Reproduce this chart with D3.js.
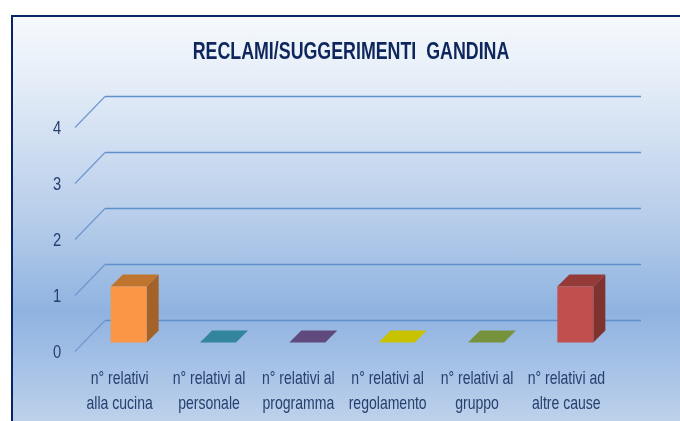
<!DOCTYPE html>
<html>
<head>
<meta charset="utf-8">
<script src="https://cdn.jsdelivr.net/npm/d3@7"></script>
<style>
  html, body { margin: 0; padding: 0; background: #fff; }
  svg { display: block; }
  text { font-family: "Liberation Sans", sans-serif; }
</style>
</head>
<body>
<div id="chart"></div>
<script>
const TITLE = 'RECLAMI/SUGGERIMENTI\u00a0 GANDINA';
const CATEGORIES = [
  ['n° relativi', 'alla cucina'],
  ['n° relativi al', 'personale'],
  ['n° relativi al', 'programma'],
  ['n° relativi al', 'regolamento'],
  ['n° relativi al', 'gruppo'],
  ['n° relativi ad', 'altre cause'],
];
const VALUES = [1, 0, 0, 0, 0, 1];
const Y_TICKS = [0, 1, 2, 3, 4];

// front, top, side
const BAR_COLORS = [
  ['#fa9644', '#c0752f', '#a3622a'],
  ['#31859c', '#31859c', '#31859c'],
  ['#604a7b', '#604a7b', '#604a7b'],
  ['#c9c200', '#c9c200', '#c9c200'],
  ['#76923c', '#76923c', '#76923c'],
  ['#c0504d', '#943a38', '#7f302e'],
];

const width = 680;
const height = 421;

// fake 3d: the floor goes back 30px right / 31px up, bars sit inside that
const depthX = 30;
const depthY = 31;
const barOffset = 9;
const barDepth = 12;
const barWidth = 36;

const svg = d3.select('#chart').append('svg')
  .attr('width', width)
  .attr('height', height);

const defs = svg.append('defs');

const bg = defs.append('linearGradient')
  .attr('id', 'bg')
  .attr('x1', 0).attr('y1', 0)
  .attr('x2', 0).attr('y2', 1);
[
  [0, '#f6f9fd'],
  [0.15, '#e6eef8'],
  [0.5, '#b7cdea'],
  [0.73, '#8fb3e0'],
  [0.85, '#a3c0e6'],
  [1, '#bdd1ea'],
].forEach(([o, c]) => bg.append('stop').attr('offset', o).attr('stop-color', c));

// the reference is a soft, upscaled picture
defs.append('filter')
  .attr('id', 'soft')
  .append('feGaussianBlur')
  .attr('stdDeviation', 0.4);

svg.append('rect')
  .attr('x', 12).attr('y', 16)
  .attr('width', width - 12).attr('height', height - 16)
  .attr('fill', 'url(#bg)');

svg.append('path')
  .attr('d', `M12,${height}V16H${width}`)
  .attr('fill', 'none')
  .attr('stroke', '#0a2364')
  .attr('stroke-width', 2);

const plot = svg.append('g').attr('filter', 'url(#soft)');

// no condensed font installed, so squeeze the text horizontally
plot.append('text')
  .attr('transform', 'translate(351,59) scale(0.775,1)')
  .attr('text-anchor', 'middle')
  .attr('font-size', 23)
  .attr('font-weight', 'bold')
  .attr('fill', '#0f265c')
  .text(TITLE);

const x = d3.scaleBand()
  .domain(d3.range(CATEGORIES.length))
  .range([75, 611]);

const y = d3.scaleLinear()
  .domain([0, 4])
  .range([351.5, 127.5]);

const grid = plot.append('g').attr('fill', 'none');

grid.selectAll('path.back')
  .data(Y_TICKS)
  .join('path')
  .attr('class', 'back')
  .attr('d', d => `M${75 + depthX},${y(d) - depthY}H641`)
  .attr('stroke', '#5f8fcd')
  .attr('stroke-width', 1.6);

grid.selectAll('path.side')
  .data(Y_TICKS)
  .join('path')
  .attr('class', 'side')
  .attr('d', d => `M75,${y(d)}L${75 + depthX},${y(d) - depthY}`)
  .attr('stroke', '#6f98cf')
  .attr('stroke-width', 1.2);

plot.append('g')
  .selectAll('text')
  .data(Y_TICKS)
  .join('text')
  .attr('transform', d => `translate(57,${y(d) + 6}) scale(0.82,1)`)
  .attr('text-anchor', 'middle')
  .attr('font-size', 18)
  .attr('fill', '#27406f')
  .text(d => d);

const bars = plot.append('g')
  .selectAll('g')
  .data(VALUES.map((v, i) => ({ v, i })))
  .join('g')
  .attr('transform', d => {
    const left = x(d.i) + x.bandwidth() / 2 + barOffset - barWidth / 2;
    return `translate(${left},${y(0) - barOffset})`;
  });

const barTop = d => y(d.v) - y(0);

// top face (for the zero bars this is all there is)
bars.append('path')
  .attr('d', d => `M0,${barTop(d)}l${barDepth},${-barDepth}h${barWidth}l${-barDepth},${barDepth}z`)
  .attr('fill', d => BAR_COLORS[d.i][1]);

const tall = bars.filter(d => d.v > 0);

tall.append('path')
  .attr('d', d => `M${barWidth},0V${barTop(d)}l${barDepth},${-barDepth}V${-barDepth}z`)
  .attr('fill', d => BAR_COLORS[d.i][2]);

tall.append('rect')
  .attr('y', barTop)
  .attr('width', barWidth)
  .attr('height', d => -barTop(d))
  .attr('fill', d => BAR_COLORS[d.i][0]);

plot.append('g')
  .selectAll('g')
  .data(CATEGORIES)
  .join('g')
  .attr('transform', (d, i) => `translate(${x(i) + x.bandwidth() / 2},0)`)
  .selectAll('text')
  .data(d => d)
  .join('text')
  .attr('transform', (d, j) => `translate(0,${384 + j * 25}) scale(0.78,1)`)
  .attr('text-anchor', 'middle')
  .attr('font-size', 18)
  .attr('fill', '#27406f')
  .text(d => d);
</script>
</body>
</html>
